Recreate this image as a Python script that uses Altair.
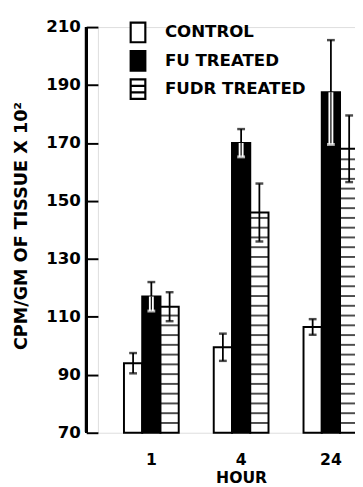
import altair as alt
import numpy as np
import pandas as pd

hours = ["1", "4", "24"]
series = ["CONTROL", "FU TREATED", "FUDR TREATED"]
control = [94.0, 99.5, 106.5]
control_err = [3.5, 4.7, 2.7]
fu = [117.0, 170.0, 187.5]
fu_err = [5.0, 4.8, 18.0]
fudr = [113.5, 146.0, 168.0]
fudr_err = [5.0, 10.0, 11.5]
y_ticks = list(range(70, 211, 10))

rows = []
for s, vals, errs in zip(series, [control, fu, fudr], [control_err, fu_err, fudr_err]):
    for h, v, e in zip(hours, vals, errs):
        rows.append(dict(hour=h, series=s, value=v, lo=v - e, hi=v + e))
df = pd.DataFrame(rows)

# decorative horizontal hatching of the FUDR bars, derived from the FUDR values
stripe_step = 3.37
stripes = []
for h, v in zip(hours, fudr):
    for yv in np.arange(70 + stripe_step, v - 0.8, stripe_step):
        stripes.append(dict(hour=h, series=series[2], y=float(yv)))
sdf = pd.DataFrame(stripes)

FONT = "DejaVu Sans"
H = 415
sq = "M-0.75,-1L0.75,-1L0.75,1L-0.75,1Z"
sq_lines = "M-0.75,-1L0.75,-1L0.75,1L-0.75,1Z M-0.75,-0.33L0.75,-0.33 M-0.75,0.33L0.75,0.33"

legend = alt.Legend(
    title=None, orient="none", legendX=29.5, legendY=-6, padding=0,
    rowPadding=0, labelOffset=16, symbolSize=400, symbolStrokeWidth=2.2,
    symbolOpacity=1,
    labelFont=FONT, labelFontSize=17, labelFontWeight="bold", labelColor="black",
)

x = alt.X(
    "hour:N", sort=hours,
    scale=alt.Scale(range=[0, 293], paddingInner=0.39, paddingOuter=0.29),
    axis=alt.Axis(
        title="HOUR", labelAngle=0, domain=False, ticks=False, labelFont=FONT,
        labelFontSize=16, labelFontWeight="bold", labelColor="black", labelPadding=20,
        titleFont=FONT, titleFontSize=16, titleFontWeight="bold", titleColor="black",
        titlePadding=2,
    ),
)
xo = alt.XOffset("series:N", sort=series, scale=alt.Scale(domain=series, paddingInner=0, paddingOuter=0))
yscale = alt.Scale(domain=[70, 210], nice=False, zero=False)
y = alt.Y(
    "value:Q", scale=yscale,
    axis=alt.Axis(
        title="CPM/GM OF TISSUE X 10²", values=y_ticks,
        labelExpr="datum.value % 20 == 10 ? datum.label : ''",
        domain=False, tickSize=12, tickWidth=2, tickColor="black", grid=False,
        labelFont=FONT, labelFontSize=17, labelFontWeight="bold", labelColor="black",
        labelPadding=6, titleFont=FONT, titleFontSize=18, titleFontWeight="bold",
        titleColor="black", titleX=-78, titleY=203, titleAngle=-90,
        titleAlign="center", titleBaseline="middle",
    ),
)
fill_scale = alt.Scale(domain=series, range=["white", "black", "white"])
stroke_scale = alt.Scale(domain=series, range=["black", "black", "black"])

base = alt.Chart(df)

# small points hidden under the bars; they carry the legend symbols
legend_pts = base.mark_point(filled=True, size=20, strokeWidth=2.2, opacity=1).encode(
    x=x, xOffset=xo, y=alt.Y("mid:Q", scale=yscale),
    fill=alt.Fill("series:N", sort=series, scale=fill_scale, legend=legend),
    stroke=alt.Stroke("series:N", sort=series, scale=stroke_scale, legend=legend),
    shape=alt.Shape("series:N", sort=series,
                    scale=alt.Scale(domain=series, range=[sq, sq, sq_lines]),
                    legend=legend),
).transform_calculate(mid="80")

bars = base.mark_bar(stroke="black", strokeWidth=2).encode(
    x=x, xOffset=xo, y=y, y2=alt.datum(70),
    fill=alt.Fill("series:N", sort=series, scale=fill_scale, legend=legend),
)

hatch = alt.Chart(sdf).mark_tick(color="black", size=18.7, thickness=2).encode(
    x=x, xOffset=xo, y=alt.Y("y:Q", scale=yscale),
)

not_fu = alt.datum.series != series[1]
is_fu = alt.datum.series == series[1]

err_full = base.transform_filter(not_fu).mark_rule(color="black", strokeWidth=1.8).encode(
    x=x, xOffset=xo, y=alt.Y("lo:Q", scale=yscale), y2="hi:Q",
)
err_up = base.transform_filter(is_fu).mark_rule(color="black", strokeWidth=1.8).encode(
    x=x, xOffset=xo, y=alt.Y("value:Q", scale=yscale), y2="hi:Q",
)
cap_top = base.mark_tick(color="black", size=8, thickness=2.5).encode(
    x=x, xOffset=xo, y=alt.Y("hi:Q", scale=yscale),
)
cap_low = base.transform_filter(not_fu).mark_tick(color="black", size=8, thickness=2.5).encode(
    x=x, xOffset=xo, y=alt.Y("lo:Q", scale=yscale),
)
fu_white = base.transform_filter(is_fu).mark_rule(color="white", strokeWidth=5).encode(
    x=x, xOffset=xo, y=alt.Y("lo:Q", scale=yscale), y2="value:Q",
)
fu_inner = base.transform_filter(is_fu).mark_rule(color="black", strokeWidth=1.2).encode(
    x=x, xOffset=xo, y=alt.Y("lo:Q", scale=yscale), y2="value:Q",
)
fu_cap = base.transform_filter(is_fu).mark_tick(color="white", size=8, thickness=3).encode(
    x=x, xOffset=xo, y=alt.Y("lo:Q", scale=yscale),
)

y_line = base.mark_rule(color="black", strokeWidth=2.5).encode(
    x=alt.value(-12), y=alt.value(0), y2=alt.value(H),
)

chart = alt.layer(
    legend_pts, bars, hatch, err_full, err_up, cap_top, cap_low,
    fu_white, fu_inner, fu_cap, y_line,
).properties(
    width=263, height=H,
    autosize=alt.AutoSizeParams(type="none"),
    padding={"left": 92, "top": 14, "right": 0, "bottom": 50},
).configure_view(stroke=None).configure(background="white")

chart.save("out.html", embed_options={"renderer": "svg", "actions": False})
